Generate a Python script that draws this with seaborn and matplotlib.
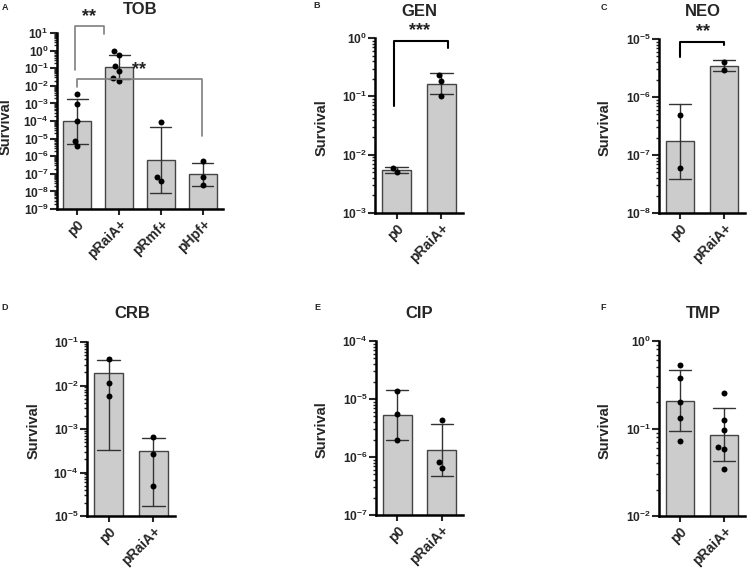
import numpy as np
import pandas as pd
import matplotlib
matplotlib.use("Agg")
import matplotlib.pyplot as plt
import seaborn as sns
from matplotlib.ticker import LogLocator, FuncFormatter, NullFormatter

# survival of each replicate
tob_groups = ["p0", "pRaiA+", "pRmf+", "pHpf+"]
tob_p0 = [3.4e-3, 8.9e-4, 1.0e-4, 7.6e-6, 3.6e-6]
tob_raia = [0.59, 0.91, 0.072, 0.13, 0.020, 0.026]
tob_rmf = [8.7e-5, 3.7e-8, 6.6e-8]
tob_hpf = [5.1e-7, 6.3e-8, 2.4e-8]

pair_groups = ["p0", "pRaiA+"]
gen_p0 = [4.95e-3, 6.0e-3]
gen_raia = [0.23, 0.184, 0.103]
neo_p0 = [4.9e-7, 6.0e-8]
neo_raia = [4.05e-6, 2.95e-6]
crb_p0 = [0.0415, 0.0115, 0.00566]
crb_raia = [6.4e-4, 2.6e-4, 4.9e-5]
cip_p0 = [1.38e-5, 5.5e-6, 1.93e-6]
cip_raia = [4.26e-6, 8.05e-7, 6.45e-7]
tmp_p0 = [0.537, 0.374, 0.199, 0.133, 0.0726]
tmp_raia = [0.252, 0.125, 0.096, 0.062, 0.0578, 0.0344]


def frame(groups, values):
    return pd.DataFrame({
        "group": np.repeat(groups, [len(v) for v in values]),
        "survival": np.concatenate(values),
    })


sns.set_theme(style="ticks")
plt.rcParams["font.family"] = ["Liberation Sans", "DejaVu Sans"]
plt.rcParams["font.weight"] = "bold"
plt.rcParams["mathtext.fontset"] = "custom"
plt.rcParams["mathtext.rm"] = "Liberation Sans:bold"
plt.rcParams["mathtext.bf"] = "Liberation Sans:bold"

fig = plt.figure(figsize=(7.48, 5.69), dpi=100)
W, H = 748, 569


def add_ax(x0, y0, x1, y1):
    return fig.add_axes([x0 / W, 1 - y1 / H, (x1 - x0) / W, (y1 - y0) / H])


pow_fmt = FuncFormatter(lambda v, p: r"$\mathbf{10^{%d}}$" % int(round(np.log10(v))))


def panel(ax, df, order, lo, hi, geo=True, labelx=-0.54, labely=0.49):
    if geo:
        ax.set_yscale("log")
    sns.barplot(data=df, x="group", y="survival", order=order, ax=ax,
                color="#cccccc", edgecolor="#444444", linewidth=1.0,
                width=0.65, saturation=1, errorbar="sd", capsize=0.5,
                err_kws={"color": "#333333", "linewidth": 1.0})
    if not geo:
        ax.set_yscale("log")
    sns.swarmplot(data=df, x="group", y="survival", order=order, ax=ax,
                  color="black", size=4.3, linewidth=0, zorder=5)
    ax.set_ylim(10.0 ** lo, 10.0 ** hi)
    ax.set_xlim(-0.48, len(order) - 0.52)
    ax.yaxis.set_major_locator(LogLocator(base=10, numticks=20))
    ax.yaxis.set_major_formatter(pow_fmt)
    ax.yaxis.set_minor_locator(LogLocator(base=10, subs=np.arange(2, 10), numticks=20))
    ax.yaxis.set_minor_formatter(NullFormatter())
    ax.set_xticks(range(len(order)))
    ax.set_xticklabels(order, rotation=45, ha="right", rotation_mode="anchor",
                       fontsize=10, fontweight="bold")
    ax.tick_params(axis="y", which="major", length=5, width=1.5, labelsize=8.7, pad=1)
    ax.tick_params(axis="y", which="minor", length=2.5, width=1.0)
    ax.tick_params(axis="x", length=4, width=1.5, pad=2)
    for s in ["left", "bottom"]:
        ax.spines[s].set_linewidth(1.8)
        ax.spines[s].set_color("black")
    sns.despine(ax=ax)
    ax.set_xlabel("")
    ax.set_ylabel("Survival", fontsize=10.5, fontweight="bold")
    ax.yaxis.set_label_coords(labelx, labely)


def bracket(ax, x0, x1, y_left, y_top, y_right, color, lw):
    ax.plot([x0, x0, x1, x1], [y_left, y_top, y_top, y_right],
            color=color, lw=lw, clip_on=False, zorder=6)


def stars(ax, x, y, s):
    ax.text(x, y, s, ha="center", va="center", fontsize=13, fontweight="bold",
            color="#222222", clip_on=False, zorder=7)


# A - TOB
axA = add_ax(57, 33, 223, 209)
panel(axA, frame(tob_groups, [tob_p0, tob_raia, tob_rmf, tob_hpf]), tob_groups,
      -9, 1, labelx=-0.265, labely=0.47)
bracket(axA, -0.05, 0.65, 10 ** -1.08, 10 ** 1.42, 10 ** 0.94, "#7f7f7f", 1.2)
bracket(axA, 0.0, 2.98, 10 ** -2.07, 10 ** -1.61, 10 ** -4.87, "#7f7f7f", 1.2)
stars(axA, 0.29, 10 ** 1.95, "**")
stars(axA, 1.48, 10 ** -1.08, "**")

# B - GEN
axB = add_ax(375, 38, 463, 213)
panel(axB, frame(pair_groups, [gen_p0, gen_raia]), pair_groups, -3, 0, labelx=-0.53)
bracket(axB, -0.05, 1.15, 10 ** -1.165, 10 ** -0.057, 10 ** -0.17, "black", 1.5)
stars(axB, 0.52, 10 ** 0.12, "***")

# C - NEO
axC = add_ax(659, 39, 745, 213)
panel(axC, frame(pair_groups, [neo_p0, neo_raia]), pair_groups, -8, -5, labelx=-0.55)
bracket(axC, 0.0, 1.0, 10 ** -5.31, 10 ** -5.05, 10 ** -5.098, "black", 1.5)
stars(axC, 0.52, 10 ** -4.88, "**")

# D - CRB (arithmetic mean +/- SD)
axD = add_ax(87, 342, 175, 516)
panel(axD, frame(pair_groups, [crb_p0, crb_raia]), pair_groups, -5, -1, geo=False,
      labelx=-0.53)

# E - CIP
axE = add_ax(376, 341, 463, 515)
panel(axE, frame(pair_groups, [cip_p0, cip_raia]), pair_groups, -7, -4, labelx=-0.55)

# F - TMP
axF = add_ax(659, 341, 745, 516)
panel(axF, frame(pair_groups, [tmp_p0, tmp_raia]), pair_groups, -2, 0, labelx=-0.55)

# titles and panel letters
for (tx, ty, t) in [(140, 10, "TOB"), (419, 11, "GEN"), (703, 12, "NEO"),
                    (132, 314, "CRB"), (419, 313, "CIP"), (703, 314, "TMP")]:
    fig.text(tx / W, 1 - ty / H, t, ha="center", va="center",
             fontsize=12, fontweight="bold")
for (lx, ly, l) in [(5, 7, "A"), (317, 6, "B"), (604, 7, "C"),
                    (5, 307, "D"), (317, 307, "E"), (603, 307, "F")]:
    fig.text(lx / W, 1 - ly / H, l, ha="center", va="center",
             fontsize=6.5, fontweight="bold")

fig.savefig("out.png", dpi=100)
